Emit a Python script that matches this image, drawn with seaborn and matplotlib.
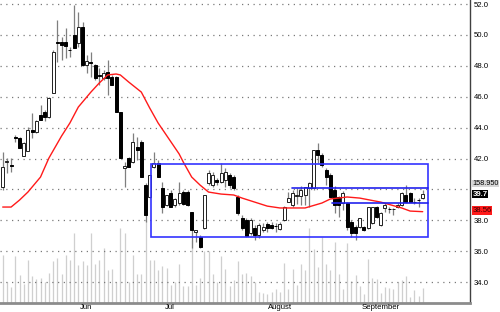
import numpy as np
import matplotlib
matplotlib.use("Agg")
import matplotlib.pyplot as plt
import seaborn as sns
from matplotlib.transforms import blended_transform_factory, ScaledTranslation
from matplotlib.patches import Rectangle

sns.set_style("white")
plt.rcParams['font.family'] = ['Liberation Sans', 'DejaVu Sans']

# ---------------- data ----------------
opens = [40.16, 41.78, 41.58, 43.40, 43.33, 42.17, 42.49, 43.85, 43.72, 44.82,
         45.01, 44.69, 46.24, 49.54, 49.54, 49.54, 49.02, 50.00, 49.48, 50.51,
         48.05, 48.25, 48.05, 47.41, 47.21, 47.60, 47.28, 47.28, 45.01, 41.39,
         42.04, 41.78, 42.75, 43.07, 40.29, 39.51, 41.45, 41.71, 40.10, 38.99,
         39.77, 38.99, 39.12, 39.84, 39.84, 38.54, 37.25, 36.93, 37.51, 40.42,
         40.29, 40.61, 40.48, 40.61, 40.94, 40.81, 39.51, 38.16, 38.03, 37.19,
         37.51, 37.06, 37.38, 37.77, 37.70, 37.64, 37.44, 38.03, 39.19, 38.99,
         39.58, 39.58, 39.64, 40.10, 40.10, 42.56, 42.23, 41.26, 40.94, 39.97,
         39.51, 39.12, 39.12, 37.90, 37.57, 37.57, 37.57, 37.51, 37.83, 38.87,
         37.70, 38.80, 38.74, 38.74, 38.87, 38.99, 39.64, 39.77, 39.19, 39.32, 39.45]
highs = [42.43, 42.04, 42.04, 43.53, 43.40, 43.07, 44.04, 44.95, 44.50, 45.47,
         45.14, 45.98, 49.02, 50.97, 49.87, 50.45, 49.22, 51.94, 51.48, 50.84,
         48.70, 48.89, 48.12, 47.86, 47.73, 48.38, 47.41, 47.34, 45.01, 41.78,
         42.10, 43.65, 43.40, 43.20, 40.42, 40.94, 42.43, 41.91, 40.48, 39.64,
         39.97, 39.45, 40.48, 39.97, 39.97, 38.54, 37.38, 37.06, 39.64, 41.26,
         41.13, 40.74, 41.71, 41.39, 41.07, 40.94, 39.64, 38.35, 38.16, 38.16,
         37.70, 37.83, 37.83, 37.90, 37.90, 37.83, 37.90, 38.93, 39.84, 39.97,
         40.10, 40.23, 40.16, 40.48, 42.56, 43.01, 42.36, 41.39, 41.07, 40.23,
         39.58, 39.90, 39.19, 38.03, 37.70, 38.16, 37.64, 38.87, 38.87, 38.93,
         38.54, 39.12, 38.87, 38.80, 39.12, 39.84, 40.29, 39.84, 39.45, 39.45, 39.97]
lows = [39.97, 41.07, 41.13, 43.07, 42.68, 42.17, 42.49, 43.33, 43.65, 44.50,
        44.43, 44.63, 46.24, 48.25, 48.38, 48.50, 48.57, 49.15, 49.22, 47.99,
        47.54, 47.28, 47.08, 46.76, 47.08, 46.11, 46.76, 45.01, 42.04, 40.16,
        41.45, 41.71, 41.91, 40.81, 37.90, 39.45, 41.39, 40.81, 38.48, 38.93,
        38.87, 38.87, 38.99, 38.99, 38.93, 36.21, 36.60, 36.21, 37.44, 40.29,
        40.16, 40.29, 40.42, 40.16, 40.10, 39.97, 38.35, 37.38, 36.93, 37.06,
        36.73, 36.86, 37.25, 37.25, 37.44, 37.25, 37.38, 37.96, 39.19, 38.87,
        39.06, 38.99, 38.99, 38.87, 39.97, 41.71, 41.45, 40.29, 39.51, 38.48,
        38.22, 38.67, 37.38, 36.93, 36.73, 37.51, 37.31, 37.44, 37.77, 38.16,
        37.64, 38.54, 38.48, 38.35, 38.80, 38.93, 39.12, 39.19, 39.06, 38.87, 39.39]
closes = [41.45, 41.84, 41.52, 43.36, 42.68, 43.01, 43.85, 43.72, 44.43, 44.50,
          44.69, 45.92, 48.89, 49.48, 49.35, 49.28, 49.00, 49.15, 50.51, 48.05,
          48.31, 48.18, 47.21, 47.34, 47.54, 47.21, 46.76, 45.01, 42.04, 41.52,
          41.45, 43.07, 42.56, 40.81, 38.35, 40.94, 41.71, 40.81, 38.87, 39.64,
          38.87, 39.39, 39.77, 39.06, 38.99, 37.38, 37.38, 36.28, 39.64, 41.07,
          40.94, 40.48, 41.07, 41.13, 40.29, 40.10, 38.48, 37.51, 36.99, 38.03,
          37.06, 37.70, 37.57, 37.51, 37.51, 37.62, 37.77, 38.87, 39.45, 39.77,
          39.64, 39.97, 40.16, 40.42, 42.56, 42.23, 41.58, 40.81, 39.51, 38.99,
          38.99, 39.77, 37.57, 37.19, 37.19, 38.16, 37.38, 38.87, 38.87, 38.22,
          38.48, 38.99, 38.72, 38.76, 38.99, 39.77, 39.19, 39.19, 39.17, 39.30, 39.70]
volume = [480, 210, 160, 470, 280, 190, 430, 270, 240, 250,
          210, 300, 420, 450, 290, 480, 430, 700, 380, 420,
          380, 700, 390, 430, 550, 330, 340, 210, 750, 700,
          210, 480, 290, 290, 830, 430, 430, 330, 370, 350,
          180, 210, 390, 170, 170, 630, 180, 250, 520, 520,
          290, 210, 470, 340, 170, 230, 420, 290, 300, 270,
          210, 110, 100, 90, 110, 140, 110, 400, 140, 340,
          180, 390, 330, 750, 540, 360, 660, 390, 330, 610,
          290, 140, 600, 220, 280, 170, 90, 440, 250, 240,
          100, 160, 150, 140, 210, 230, 270, 60, 130, 70, 150]

ma_idx = [0, 2, 4, 6, 9, 11, 14, 16, 18, 21, 23, 25, 27, 28, 30, 33, 35, 37, 40,
          42, 43, 45, 47, 49, 52, 55, 57, 60, 63, 66, 72, 76, 78, 82, 85, 90, 95, 97, 100]
ma_val = [38.86, 38.86, 39.31, 39.83, 40.80, 42.03, 43.45, 44.30, 45.33, 46.30,
          46.89, 47.41, 47.47, 47.41, 46.95, 46.30, 45.27, 44.30, 43.10, 42.30,
          41.77, 40.80, 40.28, 39.83, 39.70, 39.64, 39.44, 39.18, 38.92, 38.80,
          38.80, 39.12, 39.38, 39.51, 39.44, 39.18, 38.80, 38.60, 38.56]

month_pos = [18, 38.2, 62.6, 85]
month_labels = ["Jun", "Jul", "August", "September"]
price_ticks = [34, 36, 38, 42, 44, 46, 48, 50, 52]
grid_levels = [34, 36, 38, 40, 42, 44, 46, 48, 50, 52]

box_x = [35.4, 101.2]
box_y = [36.92, 41.63]
level_y = [40.09, 39.13]
level_start = [68.8, 78.3]

last_volume_label = "158.950"
last_close_label = "39.7"
ma_label = "38.56"
label_levels = [40.38, 39.70, 38.63]

# ---------------- figure ----------------
fig = plt.figure(figsize=(5.0, 3.12), dpi=100)
rect = [0.0, 9 / 312, 470 / 500, 303 / 312]
axv = fig.add_axes(rect)
ax = fig.add_axes(rect, sharex=axv)
ax.patch.set_alpha(0)

x = np.arange(len(opens))

# volume
axv.vlines(x, 0, volume, color="#cfcfcf", lw=0.9)
axv.set_ylim(0, 3030)
axv.axis("off")

# grid
for lv in grid_levels:
    ax.axhline(lv, color="#7a7a7a", lw=0.9, linestyle=(0, (1, 3.6)), zorder=1)

# candles
o = np.array(opens); c = np.array(closes)
ax.vlines(x, lows, highs, color="#7f7f7f", lw=0.9, zorder=2)
up = c >= o
bottoms = np.minimum(o, c)
heights = np.maximum(np.abs(c - o), 0.02)
ax.bar(x[up], heights[up], bottom=bottoms[up], width=0.72, color="white",
       edgecolor="#202020", lw=0.7, zorder=3)
ax.bar(x[~up], heights[~up], bottom=bottoms[~up], width=0.72, color="black",
       edgecolor="black", lw=0.7, zorder=3)

# moving average
sns.lineplot(x=ma_idx, y=ma_val, ax=ax, color="#ff1a1a", lw=1.0, zorder=4)

# blue box and levels
ax.add_patch(Rectangle((box_x[0], box_y[0]), box_x[1] - box_x[0], box_y[1] - box_y[0],
                       fill=False, ec="#3333ff", lw=1.2, zorder=5))
for yv, xs in zip(level_y, level_start):
    ax.plot([xs, box_x[1]], [yv, yv], color="#2222ee", lw=1.2, zorder=5)

ax.set_xlim(-0.643, 111.26)
ax.set_ylim(32.65, 52.259)

# spines
for s in ["left", "top"]:
    ax.spines[s].set_visible(False)
ax.spines["right"].set_color("#404040")
ax.spines["right"].set_linewidth(1.0)
ax.spines["bottom"].set_color("#8c8c8c")
ax.spines["bottom"].set_linewidth(2.0)

# y ticks right
ax.yaxis.tick_right()
ax.set_yticks(price_ticks)
ax.set_yticklabels([f"{t:.1f}" for t in price_ticks])
ax.tick_params(axis="y", length=0, pad=3, labelsize=5.6, colors="black")
ax.set_ylabel("")

# x ticks (months)
ax.set_xticks(month_pos)
ax.set_xticklabels([""] * len(month_pos))
ax.tick_params(axis="x", length=3, width=0.8, color="#404040", direction="out", pad=0)
tr = blended_transform_factory(ax.transData, ax.transAxes) + ScaledTranslation(2 / 100, -1 / 100, fig.dpi_scale_trans)
for p, lab in zip(month_pos, month_labels):
    ax.text(p, 0, lab, transform=tr, ha="left", va="top", fontsize=5.6, color="black", clip_on=False)

# right side value boxes
btr = blended_transform_factory(ax.transAxes, ax.transData)
ax.text(1.005, label_levels[0], last_volume_label, transform=btr, fontsize=5.2, va="center", ha="left",
        color="black", clip_on=False, bbox=dict(boxstyle="square,pad=0.06", fc="#d6d6d6", ec="none"))
ax.text(1.005, label_levels[1], last_close_label, transform=btr, fontsize=5.6, va="center", ha="left",
        color="white", fontweight="bold", clip_on=False,
        bbox=dict(boxstyle="square,pad=0.06", fc="black", ec="none"))
ax.text(1.005, label_levels[2], ma_label, transform=btr, fontsize=5.6, va="center", ha="left",
        color="#3a0000", clip_on=False, bbox=dict(boxstyle="square,pad=0.1", fc="#ff1a1a", ec="none"))

ax.set_xlabel("")
fig.savefig("out.png", dpi=100)
